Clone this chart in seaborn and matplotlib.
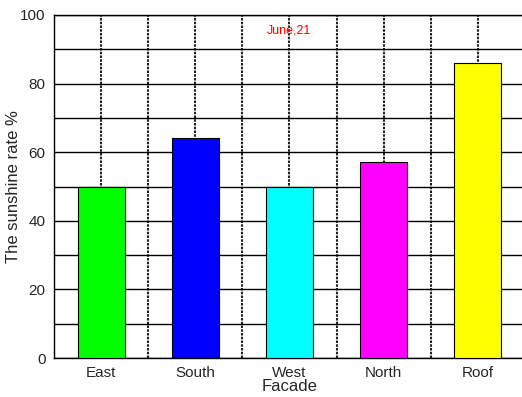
import matplotlib
matplotlib.use("Agg")
import matplotlib.pyplot as plt
from matplotlib.ticker import MultipleLocator
import seaborn as sns
import pandas as pd

facades = ["East", "South", "West", "North", "Roof"]
sunshine_rate = [50, 64, 50, 57, 86]
bar_colors = ["#00ff00", "#0000ff", "#00ffff", "#ff00ff", "#ffff00"]
y_ticks = [0, 20, 40, 60, 80, 100]

sns.set_style("white")
plt.rcParams["font.family"] = ["Liberation Sans", "DejaVu Sans"]

df = pd.DataFrame({"Facade": facades, "rate": sunshine_rate})

fig = plt.figure(figsize=(5.22, 3.97), dpi=100)
ax = fig.add_axes([54 / 522, 39 / 397, 0.902, 343 / 397])

sns.barplot(data=df, x="Facade", y="rate", hue="Facade", palette=bar_colors,
            saturation=1, width=0.5, edgecolor="black", linewidth=0.8,
            legend=False, ax=ax, zorder=3)

ax.set_xlim(-0.5, 4.5)
ax.set_ylim(0, 100)
ax.set_yticks(y_ticks)
ax.yaxis.set_minor_locator(MultipleLocator(10))
ax.xaxis.set_minor_locator(MultipleLocator(0.5))

# grid: solid horizontals every 10, dotted verticals every half category
ax.grid(False)
ax.grid(which="both", axis="y", color="black", linewidth=1.0, linestyle="-", zorder=1)
ax.grid(which="both", axis="x", color="#222222", linewidth=1.5,
        linestyle=(0, (1.2, 0.6)), zorder=1)
ax.set_axisbelow(True)

for side in ["left", "bottom", "top"]:
    ax.spines[side].set_color("black")
    ax.spines[side].set_linewidth(1.0)
ax.spines["right"].set_visible(False)

ax.tick_params(axis="both", which="major", labelsize=11, length=3,
               direction="in", color="black", pad=6)
ax.tick_params(axis="both", which="minor", length=0)

ax.set_xlabel("Facade", fontsize=12, labelpad=-1)
ax.set_ylabel("The sunshine rate %", fontsize=12)
ax.yaxis.set_label_coords(-0.07, 0.5)

ax.text(2, 95.5, "June,21", color="#ff0000", fontsize=9, ha="center",
        va="center", zorder=4)

fig.savefig("out.png", dpi=100)
